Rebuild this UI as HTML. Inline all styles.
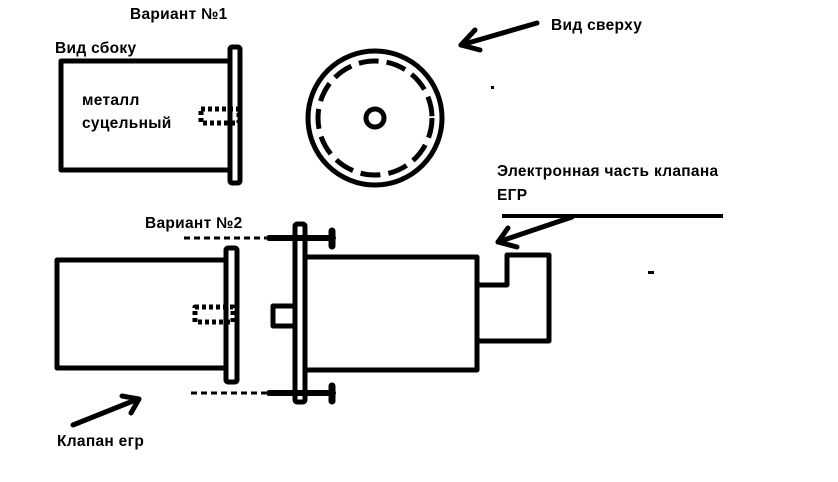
<!DOCTYPE html>
<html><head><meta charset="utf-8"><style>
html,body{margin:0;padding:0;background:#fff;}
svg{display:block}
text{font-family:"Liberation Sans","DejaVu Sans",sans-serif;font-weight:bold;font-size:15.5px;fill:#000;letter-spacing:0.3px}
</style></head><body>
<svg width="838" height="482" viewBox="0 0 838 482" xmlns="http://www.w3.org/2000/svg">
<g fill="none" stroke="#000" stroke-width="5" stroke-linejoin="round" stroke-linecap="round">
<polyline points="230,61 61,61 61,170 230,170"/>
<rect x="230" y="47" width="10" height="136" rx="2"/>
<rect x="201" y="109" width="38" height="14" stroke-dasharray="4,3" stroke-linecap="butt"/>
<circle cx="375" cy="118" r="67"/>
<circle cx="375" cy="118" r="57" stroke-dasharray="20,8" stroke-linecap="butt"/>
<circle cx="375" cy="118" r="9"/>
<line x1="537" y1="23" x2="461" y2="45"/>
<polyline points="475,30 461,45 480,50"/>
<line x1="502" y1="216" x2="723" y2="216" stroke-width="4" stroke-linecap="butt"/>
<line x1="572" y1="217" x2="498" y2="242"/>
<polyline points="508,228 498,242 517,247"/>
<polyline points="225,260 57,260 57,368 225,368"/>
<rect x="226" y="248" width="11" height="134" rx="2"/>
<rect x="195" y="307" width="38" height="15" stroke-dasharray="4,3" stroke-linecap="butt"/>
<line x1="184" y1="238" x2="266" y2="238" stroke-width="3" stroke-dasharray="6,4" stroke-linecap="butt"/>
<line x1="191" y1="393" x2="266" y2="393" stroke-width="3" stroke-dasharray="6,4" stroke-linecap="butt"/>
<rect x="295" y="224" width="10" height="178" rx="2"/>
<line x1="269" y1="238" x2="333" y2="238" stroke-width="6"/>
<line x1="332" y1="231" x2="332" y2="246" stroke-width="7"/>
<line x1="269" y1="393" x2="333" y2="393" stroke-width="6"/>
<line x1="332" y1="386" x2="332" y2="401" stroke-width="7"/>
<rect x="273" y="306" width="22" height="20"/>
<polyline points="305,257 477,257 477,370 305,370"/>
<polyline points="477,285 507,285 507,255 549,255 549,341 477,341"/>
<line x1="73" y1="425" x2="138" y2="399"/>
<polyline points="122,396 139,399 131,413"/>
</g>
<rect x="491" y="86" width="3" height="3" fill="#000"/>
<rect x="648" y="271" width="6" height="3" fill="#000"/>
<text x="130" y="19">Вариант №1</text>
<text x="55" y="53">Вид сбоку</text>
<text x="82" y="105">металл</text>
<text x="82" y="128">суцельный</text>
<text x="551" y="30">Вид сверху</text>
<text x="497" y="176">Электронная часть клапана</text>
<text x="497" y="200">ЕГР</text>
<text x="145" y="228">Вариант №2</text>
<text x="57" y="446">Клапан егр</text>
</svg>
</body></html>
